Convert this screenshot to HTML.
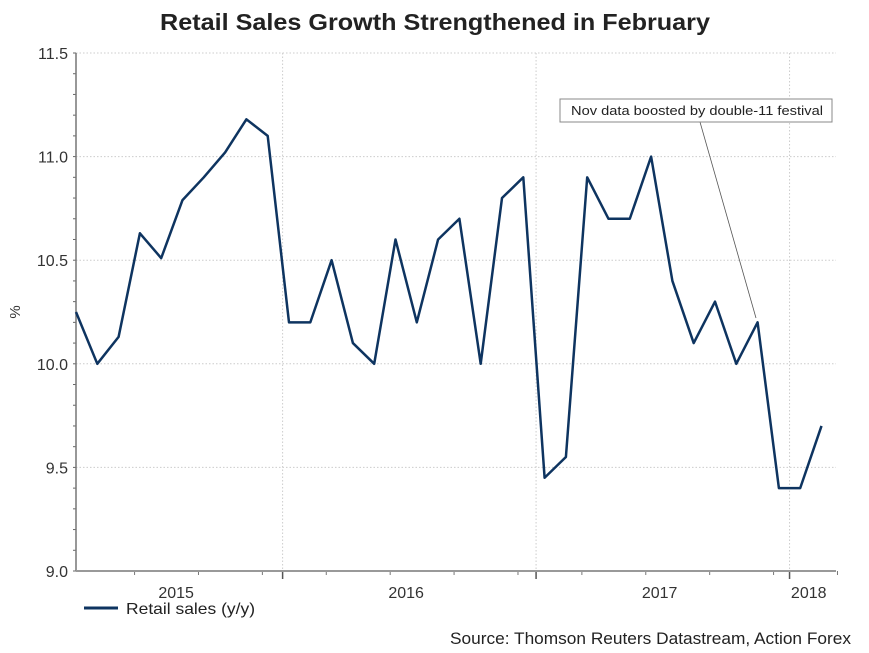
<!DOCTYPE html>
<html><head><meta charset="utf-8"><style>
body{margin:0;background:#fff;}
svg{display:block;font-family:"Liberation Sans",Arial,sans-serif;}
</style></head><body>
<svg id="chart" width="869" height="653">
<text x="160" y="30" font-size="23" font-weight="bold" fill="#222" textLength="550" lengthAdjust="spacingAndGlyphs">Retail Sales Growth Strengthened in February</text>
<g id="grid"></g>
<g id="axes"></g>
<g id="series"></g>
<g>
<line x1="700" y1="122" x2="756" y2="318" stroke="#555" stroke-width="0.8"/>
<rect x="560" y="99" width="272" height="23" fill="#fff" stroke="#888" stroke-width="1"/>
<text x="571" y="115" font-size="13" fill="#222" textLength="252" lengthAdjust="spacingAndGlyphs">Nov data boosted by double-11 festival</text>
</g>
<text x="20" y="312" font-size="15" fill="#333" transform="rotate(-90 20 312)" text-anchor="middle">%</text>
<g>
<line x1="84" y1="608" x2="118" y2="608" stroke="#0e3460" stroke-width="3"/>
<text x="126" y="614" font-size="16" fill="#222" textLength="129" lengthAdjust="spacingAndGlyphs">Retail sales (y/y)</text>
</g>
<text x="450" y="644" font-size="17" fill="#222" textLength="401" lengthAdjust="spacingAndGlyphs">Source: Thomson Reuters Datastream, Action Forex</text>
</svg>
<script>
const values=[10.25,10.0,10.13,10.63,10.51,10.79,10.9,11.02,11.18,11.1,10.2,10.2,10.5,10.1,10.0,10.6,10.2,10.6,10.7,10.0,10.8,10.9,9.45,9.55,10.9,10.7,10.7,11.0,10.4,10.1,10.3,10.0,10.2,9.4,9.4,9.7];
const yTicks=[9.0,9.5,10.0,10.5,11.0,11.5];
const yearLabels=["2015","2016","2017","2018"];
const yearLabelIdx=[4.7,15.5,27.4,34.4];
const yearBoundIdx=[9.7,21.6,33.5];
const NS="http://www.w3.org/2000/svg";
const X0=76,X1=836,Y0=571,Y1=53;
const step=21.3;
const xs=i=>X0+i*step;
const ys=v=>Y0-(v-9.0)/(11.5-9.0)*(Y0-Y1);
function mk(t,a,p){const e=document.createElementNS(NS,t);for(const k in a)e.setAttribute(k,a[k]);p.appendChild(e);return e;}
const grid=document.getElementById('grid'),axes=document.getElementById('axes'),ser=document.getElementById('series');
yTicks.forEach(v=>{
  if(v>9.0){const l=mk('line',{x1:X0,x2:X1,y1:ys(v),y2:ys(v),stroke:'#ccc','stroke-dasharray':'1.5,2'},grid);
  
  }
  const t=mk('text',{x:X0-8,y:ys(v)+6,'text-anchor':'end','font-size':'16',fill:'#333'},axes);
  t.textContent=v.toFixed(1);
  
  
});
for(let v=9.0;v<=11.5001;v+=0.1){mk('line',{x1:X0-3,x2:X0,y1:ys(v),y2:ys(v),stroke:'#666'},axes);}
yearBoundIdx.forEach(i=>{
  const l=mk('line',{x1:xs(i),x2:xs(i),y1:Y1,y2:Y0,stroke:'#ccc','stroke-dasharray':'1.5,2'},grid);
  
  
  mk('line',{x1:xs(i),x2:xs(i),y1:Y0,y2:Y0+8,stroke:'#555','stroke-width':1.5},axes);
});
for(let i=-0.25+3;i<36;i+=3){mk('line',{x1:xs(i+0.0),x2:xs(i),y1:Y0,y2:Y0+4,stroke:'#777'},axes);}
mk('line',{x1:X0,x2:X0,y1:Y1,y2:Y0,stroke:'#777','stroke-width':1.5},axes);
mk('line',{x1:X0,x2:X1,y1:Y0,y2:Y0,stroke:'#999','stroke-width':2},axes);
yearLabels.forEach((s,k)=>{
  const t=mk('text',{x:xs(yearLabelIdx[k]),y:Y0+27,'text-anchor':'middle','font-size':'16',fill:'#333'},axes);
  t.textContent=s;
  
  
});
const p=mk('polyline',{points:values.map((v,i)=>xs(i)+','+ys(v)).join(' '),fill:'none',stroke:'#0e3460','stroke-width':2.5,'stroke-linejoin':'round'},ser);


</script>
</body></html>
